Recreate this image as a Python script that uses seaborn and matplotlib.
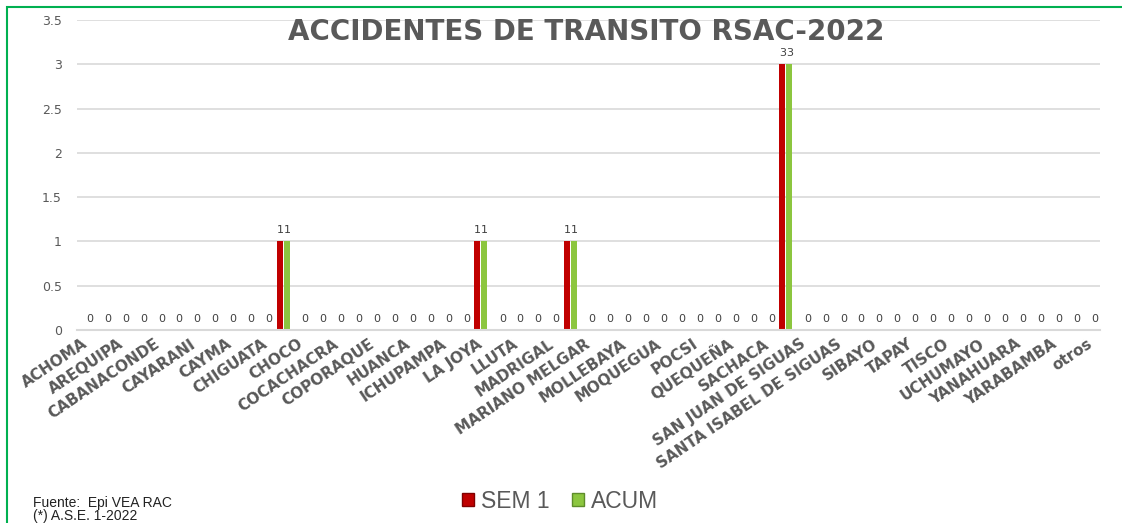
import numpy as np
import pandas as pd
import matplotlib
matplotlib.use("Agg")
import matplotlib.pyplot as plt
import seaborn as sns
from matplotlib.patches import Rectangle, Patch

# ------------------------------------------------------------------
# Datos (Excel muestra solo una de cada dos etiquetas de categoria)
# ------------------------------------------------------------------
distritos = ["ACHOMA", "AREQUIPA", "CABANACONDE", "CAYARANI", "CAYMA",
             "CHIGUATA", "CHOCO", "COCACHACRA", "COPORAQUE", "HUANCA",
             "ICHUPAMPA", "LA JOYA", "LLUTA", "MADRIGAL", "MARIANO MELGAR",
             "MOLLEBAYA", "MOQUEGUA", "POCSI", "QUEQUEÑA", "SACHACA",
             "SAN JUAN DE SIGUAS", "SANTA ISABEL DE SIGUAS", "SIBAYO", "TAPAY",
             "TISCO", "UCHUMAYO", "YANAHUARA", "YARABAMBA", "otros"]

sem1 = [0, 0, 0, 0, 0, 0, 0, 0, 0, 0,
        0, 1, 0, 0, 0, 0, 0, 0, 0, 0,
        0, 0, 1, 0, 0, 0, 0, 1, 0, 0,
        0, 0, 0, 0, 0, 0, 0, 0, 0, 3,
        0, 0, 0, 0, 0, 0, 0, 0, 0, 0,
        0, 0, 0, 0, 0, 0, 0]
acum = [0, 0, 0, 0, 0, 0, 0, 0, 0, 0,
        0, 1, 0, 0, 0, 0, 0, 0, 0, 0,
        0, 0, 1, 0, 0, 0, 0, 1, 0, 0,
        0, 0, 0, 0, 0, 0, 0, 0, 0, 3,
        0, 0, 0, 0, 0, 0, 0, 0, 0, 0,
        0, 0, 0, 0, 0, 0, 0]
series = ["SEM 1", "ACUM"]
y_ticks = [0, 0.5, 1, 1.5, 2, 2.5, 3, 3.5]
y_etiquetas = ["0", "0.5", "1", "1.5", "2", "2.5", "3", "3.5"]

ROJO = "#C00000"
VERDE = "#8CC63F"
GRIS = "#595959"

df = pd.DataFrame({
    "pos": list(range(len(sem1))) * 2,
    "serie": [series[0]] * len(sem1) + [series[1]] * len(acum),
    "valor": sem1 + acum,
})

sns.set_style("white")
plt.rcParams["font.family"] = ["DejaVu Sans"]

W, H = 1122, 523
fig = plt.figure(figsize=(W / 100, H / 100), dpi=100)
ax = fig.add_axes([77 / W, 1 - 330 / H, 1023 / W, 310 / H])

sns.barplot(data=df, x="pos", y="valor", hue="serie", hue_order=series,
            palette=[ROJO, VERDE], width=0.78, gap=0.14, saturation=1,
            linewidth=0, legend=False, ax=ax)

# etiquetas de datos: SEM 1 solo si > 0, ACUM siempre
ax.bar_label(ax.containers[0], labels=[str(v) if v > 0 else "" for v in sem1],
             padding=4.5, fontsize=8, color="#404040")
ax.bar_label(ax.containers[1], labels=[str(v) for v in acum],
             padding=4.5, fontsize=8, color="#404040")

ax.set_ylim(0, 3.5)
ax.set_yticks(y_ticks)
ax.set_yticklabels(y_etiquetas, fontsize=9, color=GRIS)
ax.set_xticks(range(0, len(sem1), 2))
ax.set_xticklabels(distritos, rotation=34, ha="right", va="center",
                   rotation_mode="anchor", fontsize=11, fontweight="bold",
                   color=GRIS)
ax.tick_params(axis="both", length=0)
ax.tick_params(axis="y", pad=11)
ax.tick_params(axis="x", pad=9)
ax.set_xlabel("")
ax.set_ylabel("")
ax.yaxis.grid(True, color="#D9D9D9", linewidth=1.2)
ax.set_axisbelow(True)
for s in ["top", "right", "left"]:
    ax.spines[s].set_visible(False)
ax.spines["bottom"].set_color("#D9D9D9")
ax.spines["bottom"].set_linewidth(1.5)

fig.text(586 / W, 1 - 32 / H, "ACCIDENTES DE TRANSITO RSAC-2022",
         ha="center", va="center", fontsize=20, fontweight="bold", color=GRIS)

handles = [Patch(facecolor=ROJO, edgecolor="#800000"),
           Patch(facecolor=VERDE, edgecolor="#5E8C2A")]
fig.legend(handles, series, loc="center", bbox_to_anchor=(560 / W, 1 - 501 / H),
           ncol=2, frameon=False, handlelength=0.5, handleheight=0.5,
           handletextpad=0.3, columnspacing=1.0,
           prop={"family": "Liberation Sans", "size": 16.5}, labelcolor=GRIS)

fig.text(33 / W, 1 - 503 / H, "Fuente:  Epi VEA RAC", fontsize=10,
         family="Liberation Sans", va="center", color="#222222")
fig.text(33 / W, 1 - 516 / H, "(*) A.S.E. 1-2022", fontsize=10,
         family="Liberation Sans", va="center", color="#222222")

# marco verde
fig.add_artist(Rectangle((7 / W, -0.1), 1.2, 1.1 - 7 / H,
                         transform=fig.transFigure, fill=False,
                         edgecolor="#00B050", linewidth=1.5))

fig.savefig("out.png", dpi=100)
